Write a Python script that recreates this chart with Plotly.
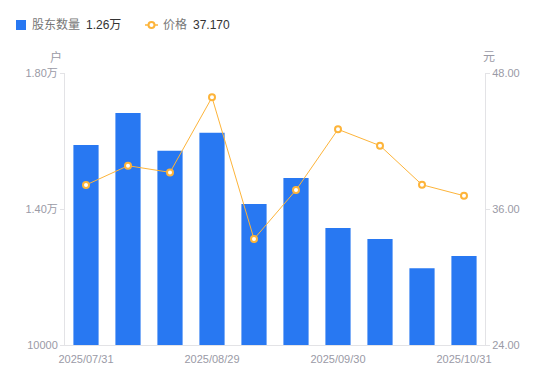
import plotly.graph_objects as go

dates = ["2025/07/31", "2025/08/10", "2025/08/20", "2025/08/29", "2025/09/10",
         "2025/09/19", "2025/09/30", "2025/10/10", "2025/10/20", "2025/10/31"]
holders = [15880, 16820, 15710, 16240, 14150, 14910, 13440, 13120, 12260, 12620]
price = [38.12, 39.82, 39.23, 45.85, 33.35, 37.67, 43.03, 41.59, 38.14, 37.17]
x_tick_labels = ["2025/07/31", "2025/08/29", "2025/09/30", "2025/10/31"]
left_ticks = [10000, 14000, 18000]
left_tick_text = ["10000", "1.40万", "1.80万"]
right_ticks = [24, 36, 48]
right_tick_text = ["24.00", "36.00", "48.00"]
legend_names = ["股东数量", "价格"]
legend_values = ["1.26万", "37.170"]

FONT = "Liberation Sans, Arial, Noto Sans CJK SC, sans-serif"
GREY = "#9a9aa6"
BLUE = "#2878F2"
ORANGE = "#FDB43A"

W, H = 550, 381
L, R, T, B = 65, 65, 73, 36
PW, PH = W - L - R, H - T - B


def px(x):
    return (x - L) / PW


def py(y):
    return 1 - (y - T) / PH


fig = go.Figure()
fig.add_trace(go.Bar(
    x=dates, y=holders, marker=dict(color=BLUE, line=dict(width=0)),
    width=0.6, name=legend_names[0], showlegend=False,
))
fig.add_trace(go.Scatter(
    x=dates, y=price, yaxis="y2", mode="lines+markers",
    line=dict(color=ORANGE, width=1),
    marker=dict(symbol="circle", size=6, color="white", line=dict(color=ORANGE, width=2)),
    name=legend_names[1], showlegend=False,
))

axis_common = dict(showgrid=False, zeroline=False, showline=True, linecolor="#e3e3e6",
                   linewidth=1, ticks="outside", tickcolor="#e3e3e6", ticklen=4,
                   automargin=False,
                   tickfont=dict(size=11, color=GREY, family=FONT))

ann_font = dict(size=12, color=GREY, family=FONT)
annotations = [
    dict(text="户", xref="paper", yref="paper", x=px(56), y=py(57), showarrow=False,
         font=ann_font, xanchor="center", yanchor="middle"),
    dict(text="元", xref="paper", yref="paper", x=px(489), y=py(57), showarrow=False,
         font=ann_font, xanchor="center", yanchor="middle"),
    dict(text=legend_names[0], xref="paper", yref="paper", x=px(30), y=py(25), showarrow=False,
         font=dict(size=12, color="#777", family=FONT), xanchor="left", yanchor="middle"),
    dict(text=legend_values[0], xref="paper", yref="paper", x=px(84), y=py(25), showarrow=False,
         font=dict(size=12, color="#333", family=FONT), xanchor="left", yanchor="middle"),
    dict(text=legend_names[1], xref="paper", yref="paper", x=px(161), y=py(25), showarrow=False,
         font=dict(size=12, color="#777", family=FONT), xanchor="left", yanchor="middle"),
    dict(text=legend_values[1], xref="paper", yref="paper", x=px(191), y=py(25), showarrow=False,
         font=dict(size=12, color="#333", family=FONT), xanchor="left", yanchor="middle"),
]
shapes = [
    dict(type="rect", xref="paper", yref="paper", x0=px(16), x1=px(26), y0=py(20), y1=py(30),
         fillcolor=BLUE, line=dict(width=0)),
    dict(type="line", xref="paper", yref="paper", x0=px(145), x1=px(158), y0=py(25), y1=py(25),
         line=dict(color=ORANGE, width=1.5)),
    dict(type="circle", xref="paper", yref="paper", x0=px(148.5), x1=px(154.5), y0=py(22), y1=py(28),
         fillcolor="white", line=dict(color=ORANGE, width=2)),
]

fig.update_layout(
    width=W, height=H,
    margin=dict(l=L, r=R, t=T, b=B, autoexpand=False),
    paper_bgcolor="white", plot_bgcolor="white",
    font=dict(family=FONT, size=12, color="#666"),
    showlegend=False,
    xaxis=dict(type="category", range=[-0.5, len(dates) - 0.5],
               showgrid=False, zeroline=False, showline=True, automargin=False,
               linecolor="#e3e3e6", ticks="outside", ticklen=4, tickcolor="rgba(0,0,0,0)",
               tickvals=x_tick_labels, ticktext=x_tick_labels,
               tickfont=dict(size=11, color=GREY, family=FONT), tickangle=0),
    yaxis=dict(range=[10000, 18000], tickvals=left_ticks, ticktext=left_tick_text, **axis_common),
    yaxis2=dict(range=[24, 48], tickvals=right_ticks, ticktext=right_tick_text,
                overlaying="y", side="right", **axis_common),
    annotations=annotations,
    shapes=shapes,
)

fig.write_html("out.html", config={"displayModeBar": False},
               post_script="document.body.style.margin='0';document.body.style.overflow='hidden';")
